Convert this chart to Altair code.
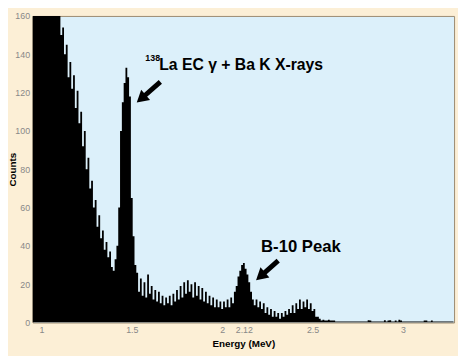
import altair as alt
import pandas as pd

# Spectrum counts per 0.01 MeV bin, starting at 0.95 MeV
counts = [
    240, 235, 230, 225, 220, 215, 210, 205, 200, 195, 190, 185, 180, 175, 168,
    162, 150, 154, 140, 145, 128, 136, 122, 129, 112, 121, 104, 110, 92, 100, 80,
    86, 70, 74, 60, 64, 50, 56, 44, 48, 38, 42, 34, 37, 29, 27, 33,
    40, 60, 100, 115, 125, 133, 128, 118, 65, 45, 30,
    26, 16, 23, 14, 21, 13, 25, 15, 19, 12, 17, 11, 16, 10, 14, 9, 13,
    10, 14, 9, 15, 11, 17, 12, 19, 13, 21, 15, 22, 16, 20, 13, 21, 14, 19, 12, 18,
    11, 16, 10, 14, 9, 13, 8, 12, 8, 11,
    7, 11, 8, 12, 8, 13, 10, 16, 19, 24, 27, 30, 31, 28, 25, 21, 16, 12, 9, 12,
    8, 11, 7, 10, 5, 8, 4, 7, 3, 6,
    3, 5, 2, 5, 3, 6, 4, 7, 5, 9, 5, 10, 7, 12, 7, 11, 8, 12, 7, 10, 6, 7, 3, 3, 2,
    1, 1.5, 1, 1, 1.5, 1, 1, 1,
    .5, .5, .5, .5, .5, .5, .5, .5, .5, .5,
    .5, .5, .5, .5, .5, .5, .5, .5, 1.2, 1,
    .5, .5, .5, .5, .5, .5, .5, 1.2, .5, 1,
    1.2, .5, .5, 1, .5, 1.5, 1, .5, .5, .5,
    .5, .5, .5, .5, .5, .5, .5, .5, .5, 1,
    1, .5, .5, 1, .5, .5, .5, .5, .5, .5,
    .5, .5, .5, .5, .5, .5,
]
energy = [round(0.95 + 0.01 * i, 2) for i in range(len(counts))]

x_ticks = [1, 1.5, 2, 2.12, 2.5, 3]
y_ticks = [0, 20, 40, 60, 80, 100, 120, 140, 160]

# Annotations (data coordinates)
label_texts = ["La EC γ + Ba K X-rays", "B-10 Peak"]
label_x = [1.652, 2.215]
label_y = [131.8, 36.9]
label_size = [16, 17]
sup_text = ["138"]
sup_x = [1.575]
sup_y = [136.4]
arrow_x0 = [1.658, 2.310]
arrow_y0 = [125.6, 32.3]
arrow_x1 = [1.552, 2.212]
arrow_y1 = [116.8, 24.1]

FONT = "Liberation Sans"

xs = alt.Scale(domain=[0.951, 3.283], nice=False, zero=False)
ys = alt.Scale(domain=[0, 160], nice=False)
x_axis = alt.Axis(values=x_ticks, labelExpr="toString(datum.value)",
                  labelOverlap=False, title="Energy (MeV)",
                  labelPadding=3, titleY=21, titleBaseline="middle")
y_axis = alt.Axis(values=y_ticks, title="Counts", titleX=-20, titleY=156,
                  titleAngle=-90, titleAlign="center", titleBaseline="middle",
                  labelPadding=3)

def X(field):
    return alt.X(field, type="quantitative", scale=xs, axis=x_axis)

def Y(field):
    return alt.Y(field, type="quantitative", scale=ys, axis=y_axis)

spec = pd.DataFrame({"E": energy, "C": counts})
area = alt.Chart(spec).mark_area(color="black", interpolate="step", clip=True).encode(
    x=X("E"), y=Y("C"),
)

lab = pd.DataFrame({"E": label_x, "C": label_y, "t": label_texts, "s": label_size})
texts = alt.Chart(lab).mark_text(
    align="left", baseline="alphabetic", font=FONT, fontWeight="bold", color="black"
).encode(
    x=X("E"), y=Y("C"), text="t:N",
    size=alt.Size("s:Q", scale=None, legend=None),
)

sup = pd.DataFrame({"E": sup_x, "C": sup_y, "t": sup_text})
sups = alt.Chart(sup).mark_text(
    align="left", baseline="alphabetic", font=FONT, fontWeight="bold",
    fontSize=9, color="black"
).encode(x=X("E"), y=Y("C"), text="t:N")

arr = pd.DataFrame({"E": arrow_x0, "C": arrow_y0, "E1": arrow_x1, "C1": arrow_y1})
shafts = alt.Chart(arr).mark_rule(color="black", strokeWidth=5).encode(
    x=X("E"), x2="E1:Q", y=Y("C"), y2="C1:Q",
)
heads_df = pd.DataFrame({"E": arrow_x1, "C": arrow_y1})
heads = alt.Chart(heads_df).mark_point(
    shape="triangle-up", filled=True, color="black", opacity=1, size=190, angle=229
).encode(x=X("E"), y=Y("C"))

chart = alt.layer(area, shafts, heads, texts, sups).properties(
    width=429, height=312,
    padding={"left": 25, "top": 5, "right": 4, "bottom": 31},
    autosize=alt.AutoSizeParams(type="none"),
).configure(
    background="#fcefd6"
).configure_view(
    fill="#dcf0fa", stroke="#9a8a70", strokeWidth=1
).configure_axis(
    labelFont=FONT, labelFontSize=9, labelColor="#888888",
    ticks=False, domain=False, grid=False,
    titleFont=FONT, titleFontWeight="bold", titleFontSize=10,
    titleColor="black",
)

chart.save("out.html", embed_options={"renderer": "svg", "actions": False})
